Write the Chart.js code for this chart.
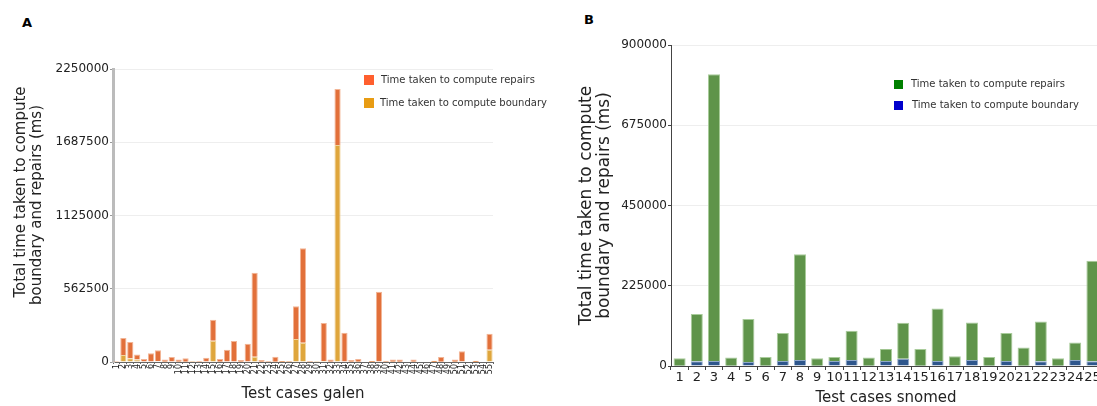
<!DOCTYPE html>
<html><head><meta charset="utf-8">
<script src="https://cdn.jsdelivr.net/npm/chart.js@4.4.0/dist/chart.umd.min.js"></script>
<style>
html,body{margin:0;padding:0;background:#fff;overflow:hidden;width:1097px;height:406px;position:relative;}
#wa{position:absolute;left:0;top:0;width:555px;height:406px;}
#wb{position:absolute;left:555px;top:0;width:560px;height:406px;}
.pl{position:absolute;font:bold 13px 'DejaVu Sans';color:#000;}
</style></head>
<body>
<div class="pl" style="left:22px;top:15px">A</div>
<div class="pl" style="left:584px;top:12px">B</div>
<div id="wa"><canvas id="ca"></canvas></div>
<div id="wb"><canvas id="cb"></canvas></div>
<script>
// ---- Data: panel A (galen) ----
const galenCases = ['1','2','3','4','5','6','7','8','9','10','11','12','13','14','15','16','17','18','19','20',
  '21','22','23','24','25','26','27','28','29','30','31','32','33','34','35','36','37','38','39','40',
  '41','42','43','44','45','46','47','48','49','50','51','52','53','54','55'];
const galenBoundary = [1500,54000,28000,20000,3000,4000,5000,2000,3000,2000,2000,500,1000,3000,164000,2000,4000,4000,1000,4000,
  41000,1000,1000,2000,500,500,177000,148000,1000,500,8000,2000,1666000,4000,1000,1000,0,500,4000,1000,
  1000,1000,0,1000,0,0,500,2000,0,1000,3000,0,500,0,94000];
const galenRepairs = [3500,130000,126000,37000,20000,63000,85000,18000,36000,18000,26000,2500,7000,30000,161000,21000,91000,157000,14000,137000,
  645000,14000,7000,39000,7500,4500,251000,725000,7000,1500,292000,18000,430000,221000,14000,22000,0,7500,536000,9000,
  19000,19000,0,19000,0,0,9500,37000,0,19000,79000,0,9500,0,123000];
const galenYTicks = [0,562500,1125000,1687500,2250000];

// ---- Data: panel B (snomed) ----
const snomedCases = ['1','2','3','4','5','6','7','8','9','10','11','12','13','14','15','16','17','18','19','20','21','22','23','24','25'];
const snomedBoundary = [1000,13000,14000,1000,11000,1000,14000,17000,1000,14000,17000,1000,14000,20000,1000,14000,1000,17000,1000,14000,1000,13000,1000,17000,13000];
const snomedRepairs = [20800,133000,804000,22600,121000,24500,78500,296000,20800,11500,82000,22600,34000,101000,47000,147000,26000,105000,24500,78500,51000,112000,20800,49000,282000];
const snomedYTicks = [0,225000,450000,675000,900000];

const seriesRepairs = 'Time taken to compute repairs';
const seriesBoundary = 'Time taken to compute boundary';
const yTitleLines = ['Total time taken to compute', 'boundary and repairs (ms)'];

const FONT = "'DejaVu Sans', sans-serif";

const boxLegend = {
  id: 'boxLegend',
  afterDraw(chart, args, opts) {
    if (!opts.items) return;
    const ctx = chart.ctx;
    ctx.save();
    ctx.font = opts.font;
    ctx.textBaseline = 'middle';
    ctx.textAlign = 'left';
    opts.items.forEach(it => {
      ctx.fillStyle = it.color;
      ctx.fillRect(it.x, it.y, it.size, it.size);
      ctx.fillStyle = '#333';
      ctx.fillText(chart.data.datasets[it.ds].label, it.tx, it.y + it.size / 2);
    });
    ctx.restore();
  }
};

// rotated axis title drawn line by line (used where the title is not centred on the axis)
const rotTitle = {
  id: 'rotTitle',
  afterDraw(chart, args, o) {
    if (!o.pos) return;
    const ctx = chart.ctx;
    ctx.save();
    ctx.font = o.font;
    ctx.fillStyle = '#222';
    ctx.textAlign = 'center';
    ctx.textBaseline = 'middle';
    o.pos.forEach((p, i) => {
      ctx.save();
      ctx.translate(p[0], p[1]);
      ctx.rotate(-Math.PI / 2);
      ctx.fillText(yTitleLines[i], 0, 0);
      ctx.restore();
    });
    ctx.restore();
  }
};

function makeChart(id, cfg) {
  return new Chart(document.getElementById(id), {
    type: 'bar',
    data: {
      labels: cfg.labels,
      datasets: [
        { label: seriesBoundary, data: cfg.boundary, backgroundColor: cfg.cB, borderColor: cfg.bB, borderWidth: 1,
          barPercentage: cfg.barPct, categoryPercentage: 1 },
        { label: seriesRepairs, data: cfg.repairs, backgroundColor: cfg.cR, borderColor: cfg.bR, borderWidth: 1,
          barPercentage: cfg.barPct, categoryPercentage: 1 }
      ]
    },
    options: {
      responsive: true, maintainAspectRatio: false, animation: false,
      layout: { padding: cfg.pad },
      plugins: { legend: { display: false }, tooltip: { enabled: false }, boxLegend: cfg.legend, rotTitle: cfg.rot || {} },
      scales: {
        x: {
          stacked: true,
          afterFit: s => { s.height = cfg.xH; },
          grid: { display: true, drawOnChartArea: false, tickLength: cfg.xTickLen, tickColor: cfg.axisColor },
          border: { color: cfg.xBorder, width: 1 },
          ticks: { autoSkip: false, minRotation: cfg.xRot, maxRotation: cfg.xRot, padding: 0,
                   font: { family: FONT, size: cfg.xFont }, color: '#222' },
          title: { display: true, text: cfg.xTitle, font: { family: FONT, size: 15, lineHeight: 1.1 },
                   color: '#222', padding: { top: 0, bottom: cfg.xTitlePad } }
        },
        y: {
          stacked: true, min: 0, max: cfg.yTicks[cfg.yTicks.length - 1],
          afterFit: s => { s.width = cfg.yW; },
          afterBuildTicks: s => { s.ticks = cfg.yTicks.map(v => ({ value: v })); },
          grid: { color: '#eeeeee', lineWidth: 1, tickLength: 3, tickColor: cfg.yTickColor },
          border: { color: cfg.yBorder, width: cfg.yBorderW },
          ticks: { padding: 1, font: { family: FONT, size: 12 }, color: '#222', callback: v => String(v) },
          title: { display: !cfg.rot, text: yTitleLines,
                   font: { family: FONT, size: cfg.yTitleSize, lineHeight: cfg.yTitleLH },
                   color: '#222', padding: { top: cfg.yTitlePad, bottom: 0 } }
        }
      }
    },
    plugins: [boxLegend, rotTitle]
  });
}

makeChart('ca', {
  labels: galenCases, boundary: galenBoundary, repairs: galenRepairs, yTicks: galenYTicks,
  cB: '#dfa63c', bB: '#f0d49e', cR: '#e2703a', bR: '#f2b596', barPct: 0.9,
  pad: { top: 69, right: 62, bottom: 0, left: 0 }, xH: 44, yW: 113,
  xTickLen: 2, axisColor: '#666', xBorder: '#666', xRot: 90, xFont: 8,
  xTitle: 'Test cases galen', xTitlePad: 4,
  yTickColor: '#999', yBorder: '#bbbbbb', yBorderW: 3,
  rot: { font: "15px " + FONT, pos: [[21, 192], [37.5, 205]] },
  legend: { font: "10px " + FONT, items: [
    { ds: 1, color: '#ff5f2e', x: 364, y: 75, size: 10, tx: 381 },
    { ds: 0, color: '#e89c13', x: 364, y: 98, size: 10, tx: 380 } ] }
});

makeChart('cb', {
  labels: snomedCases, boundary: snomedBoundary, repairs: snomedRepairs, yTicks: snomedYTicks,
  cB: '#2e568c', bB: '#8fa8c8', cR: '#5f944a', bR: '#a9cc9b', barPct: 0.7,
  pad: { top: 45, right: 14, bottom: 0, left: 0 }, xH: 40, yW: 116,
  xTickLen: 4, axisColor: '#444', xBorder: '#444', xRot: 0, xFont: 13,
  xTitle: 'Test cases snomed', xTitlePad: 0,
  yTickColor: '#444', yBorder: '#444', yBorderW: 1, yTitleSize: 17, yTitleLH: 1.08, yTitlePad: 22.5,
  legend: { font: "10px " + FONT, items: [
    { ds: 1, color: '#008000', x: 339, y: 80, size: 9, tx: 356 },
    { ds: 0, color: '#0000cc', x: 339, y: 101, size: 9, tx: 357 } ] }
});
</script>
</body></html>
